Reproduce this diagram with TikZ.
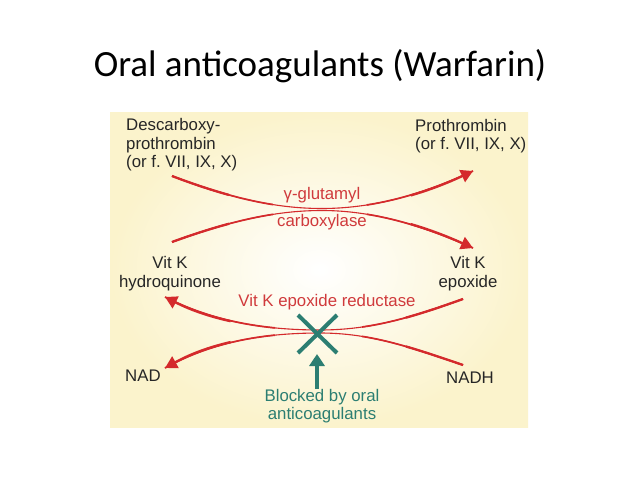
\documentclass[tikz,border=0pt]{standalone}
\usepackage{fontspec}
\setmainfont{Liberation Sans}
\newfontfamily\titlefont{Carlito}
\usetikzlibrary{arrows.meta}
\frenchspacing
\definecolor{panelyellow}{HTML}{FBF3CC}
\definecolor{panelcenter}{HTML}{FFFFFF}
\definecolor{arrowred}{HTML}{D42A2C}
\definecolor{labelred}{HTML}{D03A3C}
\definecolor{tealx}{HTML}{2C7E72}
\definecolor{txt}{HTML}{262626}
\tikzset{
  lbl/.style={inner sep=0pt, text=txt, font=\fontsize{16.8}{18.5}\selectfont},
  redlbl/.style={inner sep=0pt, text=labelred, font=\fontsize{16.8}{18.5}\selectfont},
  teallbl/.style={inner sep=0pt, text=tealx, align=center, font=\fontsize{16.8}{18.5}\selectfont},
  redbase/.style={draw=arrowred, line width=1.1pt},
  % halves drawn from the centre outwards: thicker towards the end
  outmid/.style={draw=arrowred, line width=1.7pt, dash pattern=on 0pt off 45pt on 400pt},
  outend/.style={draw=arrowred, line width=2.3pt, dash pattern=on 0pt off 90pt on 400pt,
                 -{Triangle[length=12pt,width=13pt]}},
  % halves drawn from the outer end inwards: thicker at the start
  inmid/.style={draw=arrowred, line width=1.7pt, dash pattern=on 105pt off 400pt},
  instart/.style={draw=arrowred, line width=2.3pt, dash pattern=on 60pt off 400pt},
  tealbar/.style={draw=tealx, line width=4pt},
}
\begin{document}
\begin{tikzpicture}[x=1pt,y=-1pt]
\useasboundingbox (0,0) rectangle (638,479);
\fill[white] (0,0) rectangle (638,479);
\shade[inner color=panelcenter, outer color=panelyellow] (110,112) rectangle (528,427);

\node[inner sep=0pt, font=\titlefont\fontsize{37}{42}\selectfont] (title) at (320,66) {Oral anticoagulants (Warfarin)};

\node[lbl, anchor=west, align=left] (desc) at (126,145) {Descarboxy-\\prothrombin\\(or f.\ VII, IX, X)};
\node[lbl, anchor=west, align=left] (proth) at (415,136) {Prothrombin\\(or f.\ VII, IX, X)};
\node[redlbl] (gamma) at (322,195) {γ-glutamyl};
\node[redlbl] (carbox) at (322,222) {carboxylase};
\node[lbl, align=center] (hydro) at (170,273.5) {Vit K\\hydroquinone};
\node[lbl, align=center] (epox) at (468,273.5) {Vit K\\epoxide};
\node[redlbl] (reduct) at (327,302) {Vit K epoxide reductase};
\node[lbl, anchor=west] (nad) at (125,376) {NAD};
\node[lbl, anchor=west] (nadh) at (446,378) {NADH};
\node[teallbl] (blocked) at (322,406) {Blocked by oral\\anticoagulants};

% top crossing
\coordinate (s1) at (172,176);
\coordinate (m1) at (322,208.5);
\coordinate (e1) at (473,171);
\coordinate (s2) at (172,242);
\coordinate (m2) at (322,210.5);
\coordinate (e2) at (473,248);
\foreach \st in {redbase,inmid,instart}{
  \draw[\st] (s1) .. controls (235,200) and (280,208.5) .. (m1);
  \draw[\st] (s2) .. controls (235,219) and (280,210.5) .. (m2);
}
\foreach \st in {redbase,outmid,outend}{
  \draw[\st] (m1) .. controls (370,208.5) and (420,196) .. (e1);
  \draw[\st] (m2) .. controls (370,210.5) and (420,224) .. (e2);
}

% bottom crossing
\coordinate (s3) at (463,299);
\coordinate (m3) at (320,330);
\coordinate (e3) at (165,297);
\coordinate (s4) at (463,365);
\coordinate (m4) at (320,333);
\coordinate (e4) at (165,368);
\foreach \st in {redbase,inmid,instart}{
  \draw[\st] (s3) .. controls (410,318) and (370,330) .. (m3);
  \draw[\st] (s4) .. controls (410,347) and (370,333) .. (m4);
}
\foreach \st in {redbase,outmid,outend}{
  \draw[\st] (m3) .. controls (260,330) and (210,320) .. (e3);
  \draw[\st] (m4) .. controls (260,333) and (210,343) .. (e4);
}

% teal X and arrow
\coordinate (x1) at (298,315);
\coordinate (x2) at (337,353);
\coordinate (x3) at (337,315);
\coordinate (x4) at (298,353);
\draw[tealbar] (x1) -- (x2);
\draw[tealbar] (x3) -- (x4);
\coordinate (tb) at (317,389);
\coordinate (tt) at (317,354);
\draw[tealbar, -{Triangle[length=12pt,width=15pt]}] (tb) -- (tt);
\end{tikzpicture}
\end{document}
